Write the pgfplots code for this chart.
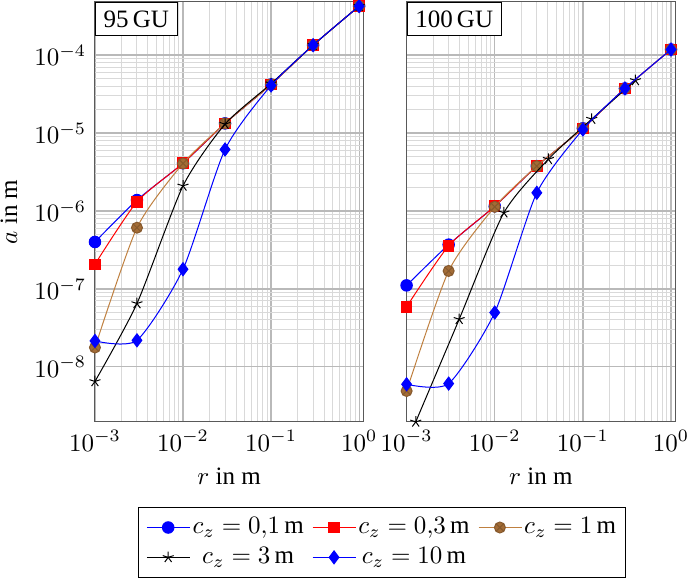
\documentclass[border=0pt]{standalone}
\usepackage{fontspec}
\setmainfont{Liberation Serif}
\usepackage{pgfplots}
\pgfplotsset{compat=1.18}
\pgfplotsset{
  s1/.style={blue, mark=*, mark size=2.3pt, mark options={fill=blue}},
  s2/.style={red, mark=square*, mark size=2.1pt, mark options={fill=red}},
  s3/.style={brown, mark=otimes*, mark size=2.2pt, mark options={fill=brown!85!black, draw=brown!70!black}},
  s4/.style={black, mark=star, mark size=2.3pt},
  s5/.style={blue, mark=diamond*, mark size=2.6pt, mark options={fill=blue}},
}
\begin{document}
\begin{tikzpicture}
\path[use as bounding box] (-38pt,-62.8pt) rectangle (237.3pt,168.8pt);
\begin{axis}[
    at={(0pt,0pt)}, anchor=south west,
    xmode=log, ymode=log, scale only axis,
    width=107.3pt, height=168pt,
    xmin=1e-3, xmax=1.11, ymin=1.97e-9, ymax=4.8e-4,
    clip mode=individual,
    grid=both,
    major grid style={gray!55, line width=0.5pt},
    minor grid style={gray!30, line width=0.4pt},
    axis line style={gray!70!black},
    tick style={draw=none},
    xtick={1e-3,1e-2,1e-1,1},
    ytick={1e-8,1e-7,1e-6,1e-5,1e-4},
    xlabel={$r$ in m},
    ylabel={$a$ in m},
    legend columns=3,
    legend style={at={(1.072,-0.203)}, anchor=north, font=\normalsize,
      draw=black, nodes={inner xsep=1pt, inner ysep=2pt},
      /tikz/every even column/.append style={column sep=2.4pt}},
    legend cell align=center]
\addplot[s1, smooth, tension=0.4] coordinates {(1e-3,4.0e-7) (3e-3,1.38e-6) (1e-2,4.1e-6) (3e-2,1.33e-5) (1e-1,4.2e-5) (3e-1,1.34e-4) (1,4.25e-4)};
\addlegendentry{$c_z = 0{,}1\,\mathrm{m}$}
\addplot[s2, smooth, tension=0.4] coordinates {(1e-3,2.07e-7) (3e-3,1.31e-6) (1e-2,4.1e-6) (3e-2,1.33e-5) (1e-1,4.2e-5) (3e-1,1.34e-4) (1,4.25e-4)};
\addlegendentry{$c_z = 0{,}3\,\mathrm{m}$}
\addplot[s3, smooth, tension=0.4] coordinates {(1e-3,1.77e-8) (3e-3,6.1e-7) (1e-2,4.07e-6) (3e-2,1.33e-5) (1e-1,4.2e-5) (3e-1,1.34e-4) (1,4.25e-4)};
\addlegendentry{$c_z = 1\,\mathrm{m}$}
\addplot[s4, smooth, tension=0.4] coordinates {(1e-3,6.5e-9) (3e-3,6.5e-8) (1e-2,2.1e-6) (3e-2,1.3e-5) (1e-1,4.3e-5) (3e-1,1.34e-4) (1,4.25e-4)};
\addlegendentry{$c_z = 3\,\mathrm{m}$}
\addplot[s5, smooth, tension=0.4] coordinates {(1e-3,2.15e-8) (3e-3,2.19e-8) (1e-2,1.79e-7) (3e-2,6.15e-6) (1e-1,4.08e-5) (3e-1,1.34e-4) (1,4.25e-4)};
\addlegendentry{$c_z = 10\,\mathrm{m}$}
\node[draw=black, fill=white, anchor=north west, inner sep=3.3pt] at (rel axis cs:0,1) {95\,GU};
\end{axis}
\begin{axis}[
    at={(124.7pt,0pt)}, anchor=south west,
    xmode=log, ymode=log, scale only axis,
    width=107.4pt, height=168pt,
    xmin=1e-3, xmax=1.11, ymin=1.97e-9, ymax=4.8e-4,
    clip mode=individual,
    grid=both,
    major grid style={gray!55, line width=0.5pt},
    minor grid style={gray!30, line width=0.4pt},
    axis line style={gray!70!black},
    tick style={draw=none},
    xtick={1e-3,1e-2,1e-1,1},
    ytick={1e-8,1e-7,1e-6,1e-5,1e-4},
    yticklabels={},
    xlabel={$r$ in m}]
\addplot[s1, smooth, tension=0.4] coordinates {(1e-3,1.11e-7) (3e-3,3.7e-7) (1e-2,1.15e-6) (3e-2,3.76e-6) (1e-1,1.15e-5) (3e-1,3.73e-5) (1,1.18e-4)};
\addplot[s2, smooth, tension=0.4] coordinates {(1e-3,5.9e-8) (3e-3,3.57e-7) (1e-2,1.15e-6) (3e-2,3.76e-6) (1e-1,1.15e-5) (3e-1,3.73e-5) (1,1.18e-4)};
\addplot[s3, smooth, tension=0.4] coordinates {(1e-3,4.9e-9) (3e-3,1.7e-7) (1e-2,1.13e-6) (3e-2,3.76e-6) (1e-1,1.15e-5) (3e-1,3.73e-5) (1,1.18e-4)};
\addplot[s4, smooth, tension=0.4] coordinates {(1.27e-3,1.97e-9) (3.95e-3,4.08e-8) (1.27e-2,9.5e-7) (4.06e-2,4.62e-6) (0.126,1.51e-5) (0.395,4.73e-5)};
\addplot[s5, smooth, tension=0.4] coordinates {(1e-3,5.98e-9) (3e-3,6.1e-9) (1e-2,4.98e-8) (3e-2,1.71e-6) (1e-1,1.11e-5) (3e-1,3.73e-5) (1,1.18e-4)};
\node[draw=black, fill=white, anchor=north west, inner sep=3.3pt] at (rel axis cs:0,1) {100\,GU};
\end{axis}
\end{tikzpicture}
\end{document}
